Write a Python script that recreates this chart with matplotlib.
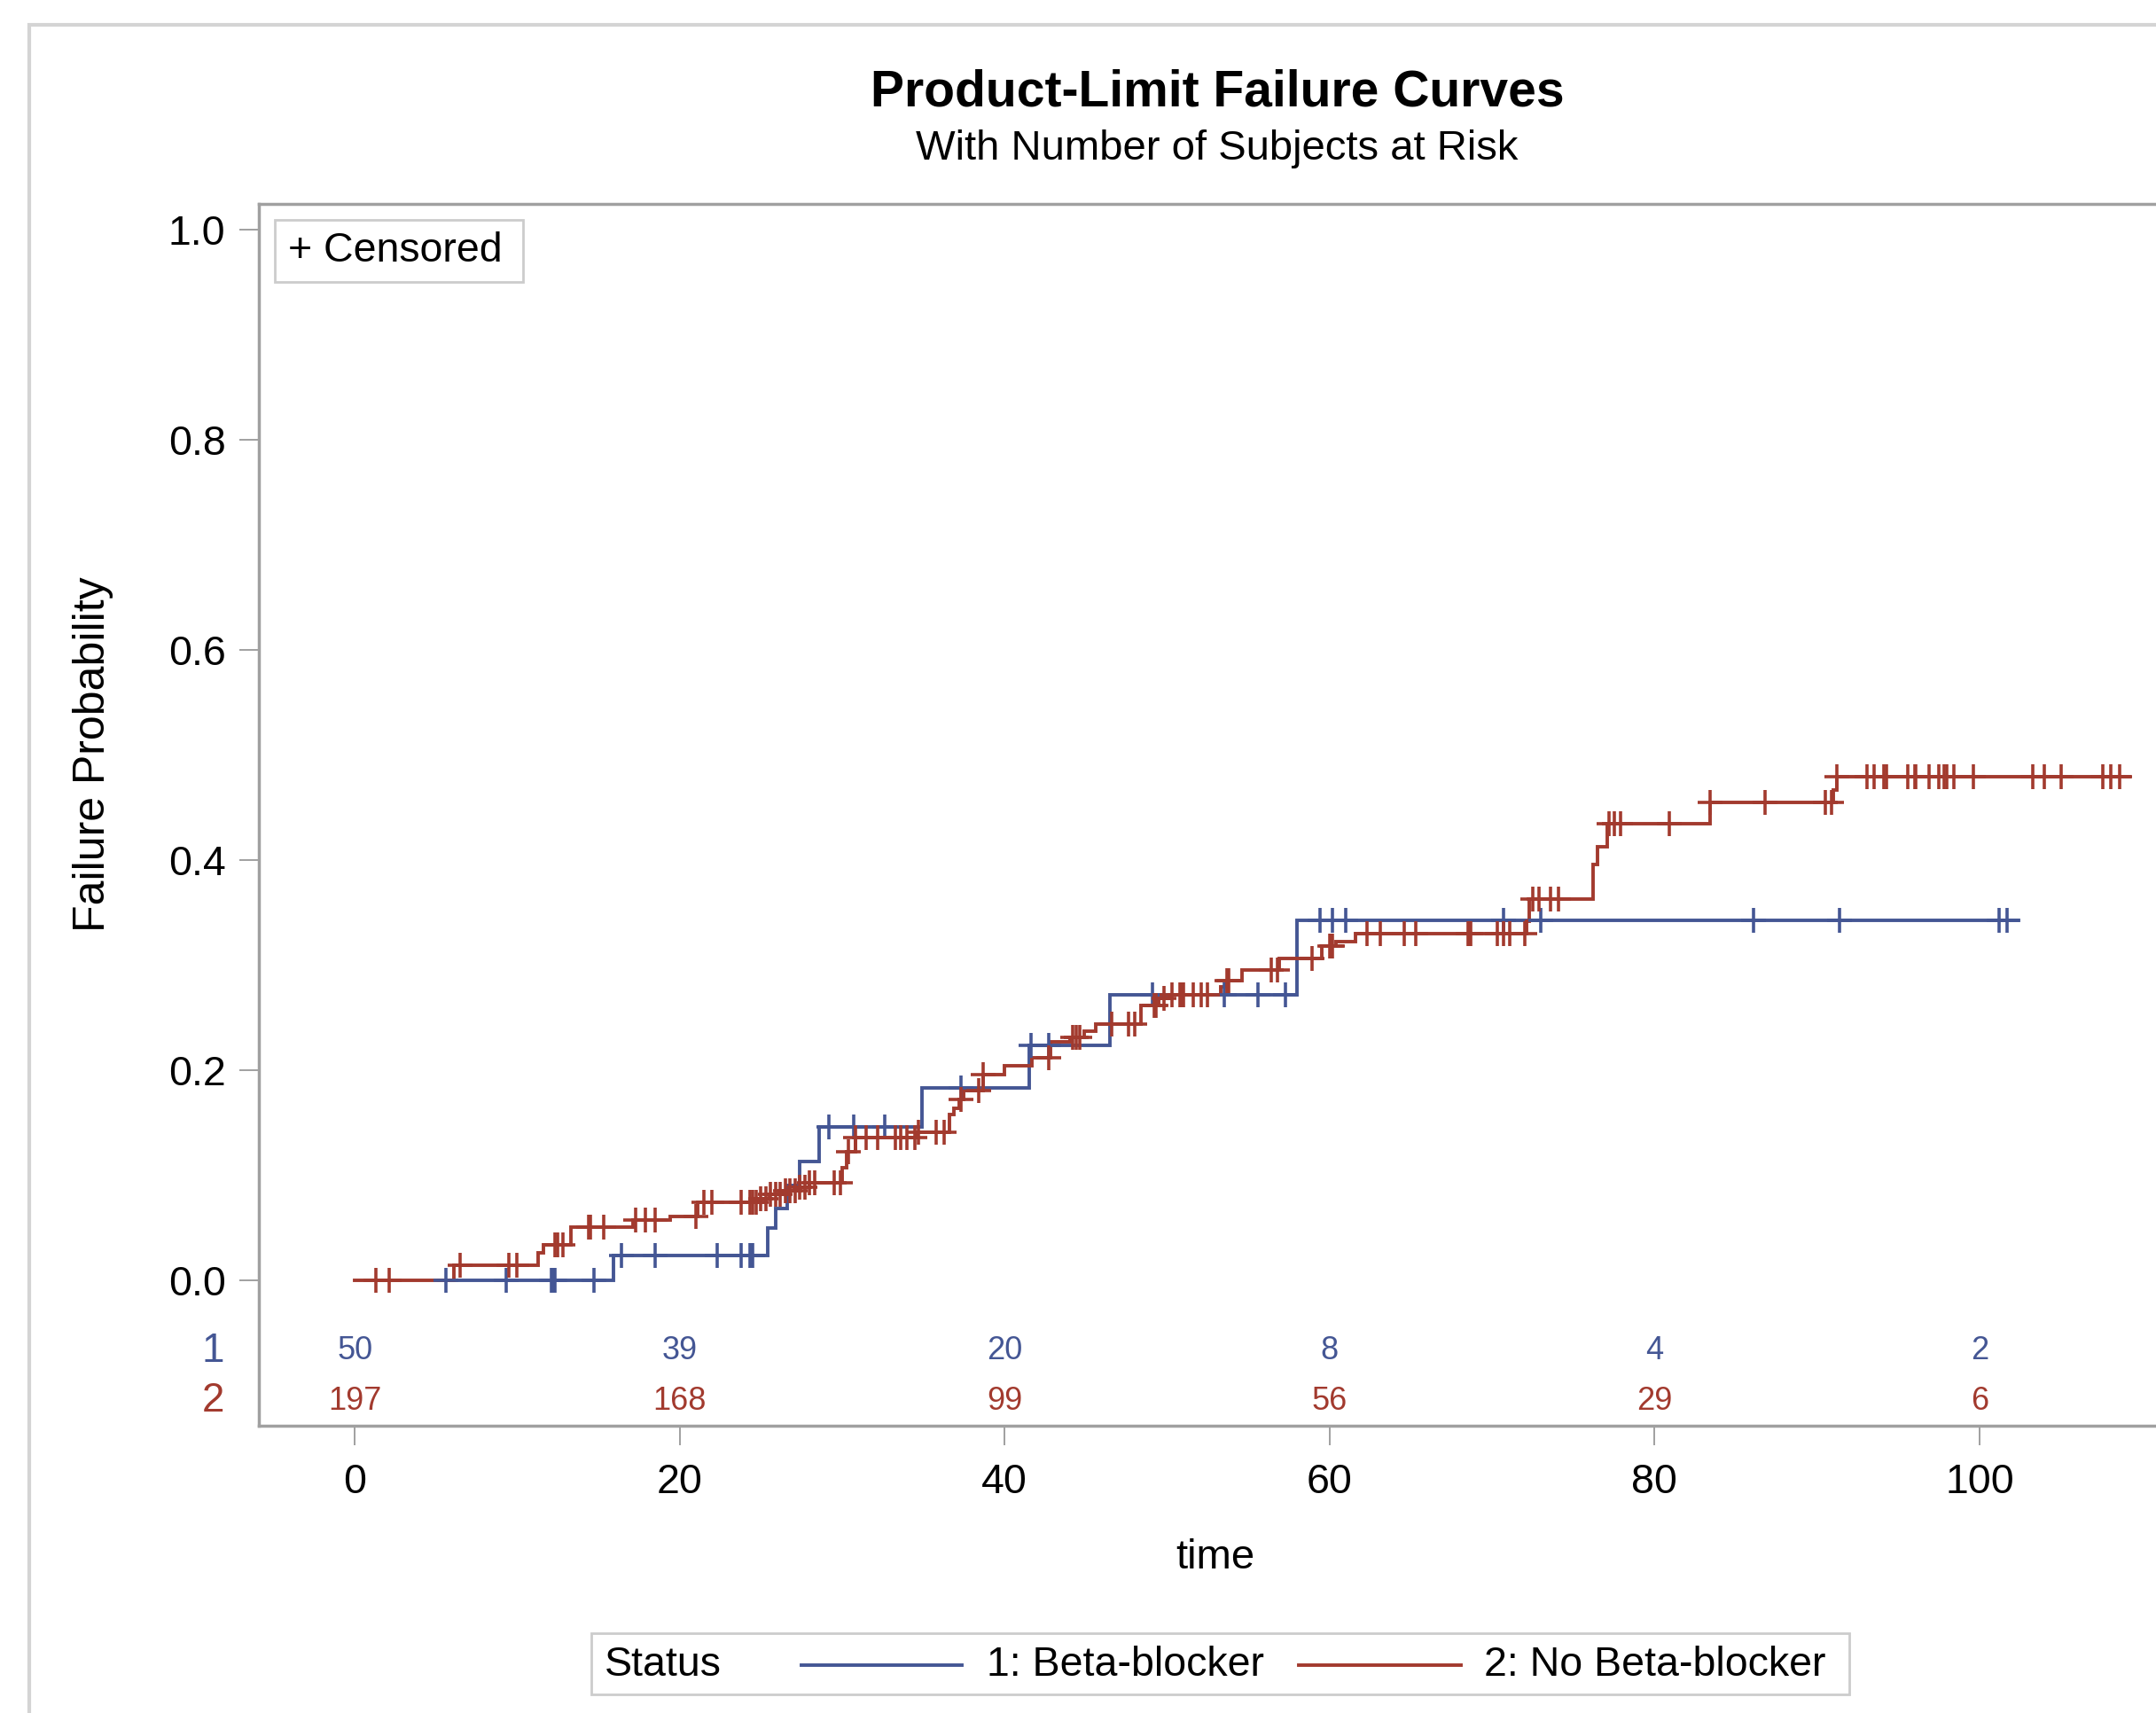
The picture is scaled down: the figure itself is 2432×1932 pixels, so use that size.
import numpy as np
import matplotlib
matplotlib.use("Agg")
import matplotlib.pyplot as plt
from matplotlib.patches import Rectangle
from matplotlib.lines import Line2D

plt.rcParams['font.family'] = ['Liberation Sans', 'DejaVu Sans']

BLUE = '#445694'
RED = '#A23A2E'

# ---------------- data ----------------
# Group 1: Beta-blocker (failure probability steps)
t1_steps = [5.2, 15.9, 25.4, 25.9, 26.6, 27.4, 28.6, 34.9, 41.5, 46.5, 58.0]
f1_steps = [0.0, 0.0239, 0.050, 0.068, 0.090, 0.113, 0.146, 0.183, 0.224, 0.272, 0.343]
t1_end = 102.4
t1_cens = [5.6, 9.3, 12.1, 12.2, 12.3, 14.7, 16.4, 18.5, 22.3, 23.8, 24.3, 24.4, 24.5,
           29.2, 30.7, 32.6, 37.3, 41.6, 42.7, 49.1, 53.5, 55.6, 57.3, 59.4, 60.2, 61.0,
           70.7, 73.0, 86.1, 91.4, 101.2, 101.7]

# Group 2: No Beta-blocker
t2_steps = [0.0, 6.1, 11.3, 11.6, 13.3, 17.1, 19.4, 21.1, 24.8, 25.5, 26.3, 27.2, 28.0,
            30.0, 30.3, 30.8, 34.6, 36.6, 36.9, 37.2, 37.5, 38.7, 40.0, 41.7, 42.8, 44.0,
            44.9, 45.6, 48.4, 49.5, 50.2, 53.3, 53.7, 54.6, 56.9, 59.5, 60.4, 61.6, 72.1,
            72.3, 76.2, 76.5, 77.1, 83.4, 91.0, 91.2]
f2_steps = [0.0, 0.0146, 0.026, 0.034, 0.051, 0.057, 0.061, 0.074, 0.078, 0.082, 0.085,
            0.089, 0.093, 0.107, 0.122, 0.136, 0.141, 0.158, 0.164, 0.172, 0.181, 0.196,
            0.204, 0.2116, 0.227, 0.231, 0.237, 0.244, 0.262, 0.268, 0.272, 0.279, 0.285,
            0.295, 0.306, 0.318, 0.322, 0.330, 0.342, 0.363, 0.396, 0.413, 0.435, 0.455,
            0.467, 0.479]
t2_end = 109.2
t2_cens = [1.3, 2.1, 6.5, 9.5, 10.0, 12.3, 12.5, 12.8, 14.4, 14.5, 15.3, 17.3, 17.9, 18.5,
           21.0, 21.5, 22.0, 23.8, 24.3, 24.5, 24.7, 25.0, 25.3, 25.6, 25.9, 26.2, 26.5,
           26.8, 27.1, 27.4, 27.7, 28.0, 28.3, 29.5, 29.9, 30.4, 30.8, 31.5, 32.2, 33.3,
           33.6, 34.0, 34.5, 34.7, 35.8, 36.3, 37.3, 38.4, 38.7, 42.7, 44.2, 44.4, 44.6,
           46.6, 47.6, 48.0, 49.2, 49.3, 49.8, 50.3, 50.8, 50.9, 51.0, 51.6, 52.1, 52.5,
           53.7, 53.8, 56.4, 56.8, 58.9, 60.0, 60.1, 60.2, 62.3, 63.1, 64.6, 65.3, 68.5,
           68.6, 68.7, 70.3, 70.7, 71.1, 72.0, 72.5, 72.9, 73.6, 74.1, 77.2, 77.5, 77.9,
           80.9, 83.4, 86.8, 90.5, 90.9, 91.2, 93.1, 93.5, 94.1, 94.3, 95.6, 96.0, 96.1,
           96.9, 97.5, 97.8, 98.0, 98.4, 99.6, 103.3, 104.0, 105.0, 107.6, 108.1, 108.6]

risk_times = [0, 20, 40, 60, 80, 100]
risk1 = [50, 39, 20, 8, 4, 2]
risk2 = [197, 168, 99, 56, 29, 6]

group_labels = ['1: Beta-blocker', '2: No Beta-blocker']

# ---------------- figure ----------------
W, H = 2432, 1932
fig = plt.figure(figsize=(W / 100, H / 100), dpi=100)


def fx(px):
    return px / W


def fy(py):
    return 1 - py / H


# outer frame (left and top edges visible; rest runs off the image)
fig.patches.append(Rectangle((fx(33), -0.2), 1.5, fy(28) + 0.2,
                             transform=fig.transFigure, fill=False,
                             edgecolor='#d4d4d4', linewidth=3))

ax_l, ax_r, ax_t, ax_b = 292, 2454, 230, 1608
ax = fig.add_axes([fx(ax_l), fy(ax_b), (ax_r - ax_l) / W, (ax_b - ax_t) / H])
ax.set_xlim(-5.9, 112.06)
ax.set_ylim(-0.1384, 1.0245)

for s in ax.spines.values():
    s.set_color('#a0a0a0')
    s.set_linewidth(2.5)


def draw_group(ts, fs, tend, cens, color):
    xs = list(ts) + [tend]
    ys = list(fs) + [fs[-1]]
    ax.step(xs, ys, where='post', color=color, lw=2.8, solid_joinstyle='miter', zorder=3)
    idx = np.searchsorted(np.array(ts), np.array(cens), side='right') - 1
    cy = np.array(fs)[idx]
    ax.plot(cens, cy, linestyle='none', marker='+', markersize=20,
            markeredgewidth=2.6, color=color, zorder=4)


draw_group(t1_steps, f1_steps, t1_end, t1_cens, BLUE)
draw_group(t2_steps, f2_steps, t2_end, t2_cens, RED)

# ticks
ax.set_xticks(risk_times)
ax.set_xticklabels([str(v) for v in risk_times])
yt = [0.0, 0.2, 0.4, 0.6, 0.8, 1.0]
ax.set_yticks(yt)
ax.set_yticklabels([f'{v:.1f}' for v in yt])
ax.tick_params(axis='both', direction='out', length=16, width=1.2, color='#909090',
               labelsize=33.5, labelcolor='black')
ax.tick_params(axis='x', pad=14)
ax.tick_params(axis='y', pad=11)

# at-risk table
y_row1, y_row2 = -0.0675, -0.1148
for t, n1, n2 in zip(risk_times, risk1, risk2):
    ax.text(t, y_row1, str(n1), ha='center', va='center', fontsize=26, color=BLUE)
    ax.text(t, y_row2, str(n2), ha='center', va='center', fontsize=26, color=RED)
ax.text(-8.73, y_row1, '1', ha='center', va='center', fontsize=33, color=BLUE, clip_on=False)
ax.text(-8.73, y_row2, '2', ha='center', va='center', fontsize=33, color=RED, clip_on=False)

# titles and labels
fig.text(fx(1373), fy(105), 'Product-Limit Failure Curves', ha='center', va='center',
         fontsize=41, fontweight='bold')
fig.text(fx(1373), fy(168), 'With Number of Subjects at Risk', ha='center', va='center',
         fontsize=34)
fig.text(fx(105), fy(851), 'Failure Probability', rotation=90, ha='center', va='center',
         fontsize=36)
fig.text(fx(1371), fy(1757), 'time', ha='center', va='center', fontsize=34)

# censored box
fig.patches.append(Rectangle((fx(310), fy(318)), 280 / W, 70 / H, transform=fig.transFigure,
                             fill=False, edgecolor='#cccccc', linewidth=2))
fig.text(fx(325), fy(283), '+ Censored', ha='left', va='center', fontsize=33.5)

# bottom legend
fig.patches.append(Rectangle((fx(667), fy(1911)), (2086 - 667) / W, (1911 - 1842) / H,
                             transform=fig.transFigure, fill=False,
                             edgecolor='#cccccc', linewidth=2))
ly = fy(1878)
fig.text(fx(682), ly, 'Status', ha='left', va='center', fontsize=33.5)
fig.lines.append(Line2D([fx(904), fx(1085)], [ly, ly], transform=fig.transFigure,
                        color=BLUE, lw=2.8))
fig.text(fx(1113), ly, group_labels[0], ha='left', va='center', fontsize=33.5)
fig.lines.append(Line2D([fx(1465), fx(1648)], [ly, ly], transform=fig.transFigure,
                        color=RED, lw=2.8))
fig.text(fx(1674), ly, group_labels[1], ha='left', va='center', fontsize=33.5)

fig.savefig('out.png', dpi=100)
